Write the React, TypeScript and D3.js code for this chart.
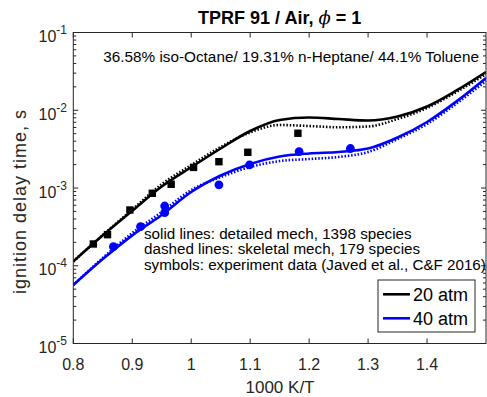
import React from "react";
import * as d3 from "d3";

const W = 487;
const H = 397;

// 1000 K/T grid for model curves
const xGrid = [0.8, 0.85, 0.9, 0.95, 1.0, 1.05, 1.1, 1.15, 1.2, 1.25, 1.3, 1.35, 1.4, 1.45, 1.5];
// 20 atm detailed mech (solid black)
const det20 = [1.135e-4, 2.46e-4, 5.1e-4, 1.045e-3, 1.85e-3, 3.22e-3, 5.41e-3, 7.5e-3, 8.07e-3, 7.71e-3, 7.38e-3, 8.31e-3, 1.117e-2, 1.795e-2, 3.1e-2];
// 20 atm skeletal mech (dotted black)
const skl20 = [1.135e-4, 2.48e-4, 5.28e-4, 1.12e-3, 1.97e-3, 3.37e-3, 5.19e-3, 6.46e-3, 6.27e-3, 6.04e-3, 6.18e-3, 7.71e-3, 1.07e-2, 1.72e-2, 2.92e-2];
// 40 atm detailed mech (solid blue)
const det40 = [5.65e-5, 1.217e-4, 2.46e-4, 4.5e-4, 8.89e-4, 1.45e-3, 2.04e-3, 2.54e-3, 2.78e-3, 2.91e-3, 3.22e-3, 4.46e-3, 7.06e-3, 1.3e-2, 2.6e-2];
// 40 atm skeletal mech (dotted blue)
const skl40 = [5.65e-5, 1.26e-4, 2.64e-4, 4.91e-4, 9.42e-4, 1.38e-3, 1.86e-3, 2.22e-3, 2.36e-3, 2.51e-3, 2.9e-3, 4.27e-3, 6.65e-3, 1.22e-2, 2.38e-2];

// experiment, 20 atm (squares)
const exp20X = [0.834, 0.858, 0.896, 0.934, 0.966, 1.004, 1.047, 1.096, 1.181];
const exp20Y = [1.905e-4, 2.51e-4, 5.21e-4, 8.55e-4, 1.117e-3, 1.84e-3, 2.18e-3, 2.88e-3, 5.06e-3];
// experiment, 40 atm (circles)
const exp40X = [0.868, 0.914, 0.955, 0.955, 1.047, 1.099, 1.183, 1.27];
const exp40Y = [1.76e-4, 3.18e-4, 5.87e-4, 4.81e-4, 1.1e-3, 1.98e-3, 2.94e-3, 3.22e-3];

const xTicks = [0.8, 0.9, 1.0, 1.1, 1.2, 1.3, 1.4];
const xTickLabels = ["0.8", "0.9", "1", "1.1", "1.2", "1.3", "1.4"];
const yExps = [-1, -2, -3, -4, -5];

const legendLabels = ["20 atm", "40 atm"];
const notes = [
  "solid lines: detailed mech, 1398 species",
  "dashed lines: skeletal mech, 179 species",
  "symbols: experiment data (Javed et al., C&F 2016)",
];

const BLUE = "#0000ff";
const AX = "#262626";
const FONT = "'Liberation Sans', Arial, Helvetica, sans-serif";

export default function App() {
  const L = 73.3, R = 486, T = 32.5, B = 343.5;
  const x = d3.scaleLinear().domain([0.8, 1.5]).range([L, R]);
  const y = d3.scaleLog().domain([1e-5, 1e-1]).range([B, T]);

  const line = d3
    .line<[number, number]>()
    .x((d) => x(d[0]))
    .y((d) => y(d[1]))
    .curve(d3.curveMonotoneX);
  const pts = (ys: number[]) => xGrid.map((v, i) => [v, ys[i]] as [number, number]);

  const minor: number[] = [];
  for (let e = -5; e < -1; e++) {
    for (let m = 2; m <= 9; m++) minor.push(m * Math.pow(10, e));
  }

  return (
    <svg width={W} height={H} style={{ position: "absolute", left: 0, top: 0 }} fontFamily={FONT}>
      <rect width={W} height={H} fill="#fff" />
      <defs>
        <clipPath id="plotclip">
          <rect x={L} y={T} width={R - L} height={B - T} />
        </clipPath>
      </defs>

      {/* title */}
      <text x={(L + R) / 2} y={23.5} textAnchor="middle" fontSize={18} fontWeight="bold" fill="#000">
        TPRF 91 / Air, <tspan fontStyle="italic" fontWeight="normal" fontFamily="'DejaVu Serif', serif">ϕ</tspan> = 1
      </text>

      {/* curves */}
      <g clipPath="url(#plotclip)" fill="none" strokeWidth={2.6}>
        <path d={line(pts(skl20)) || ""} stroke="#000" strokeDasharray="1.5,1.8" />
        <path d={line(pts(det20)) || ""} stroke="#000" />
        <path d={line(pts(skl40)) || ""} stroke={BLUE} strokeDasharray="1.5,1.8" />
        <path d={line(pts(det40)) || ""} stroke={BLUE} />
      </g>

      {/* symbols */}
      {exp20X.map((v, i) => (
        <rect key={"s" + i} x={x(v) - 3.7} y={y(exp20Y[i]) - 3.7} width={7.4} height={7.4} fill="#000" />
      ))}
      {exp40X.map((v, i) => (
        <circle key={"c" + i} cx={x(v)} cy={y(exp40Y[i])} r={4.4} fill={BLUE} />
      ))}

      {/* axes box */}
      <rect x={L} y={T} width={R - L} height={B - T} fill="none" stroke={AX} strokeWidth={1} />

      {/* x ticks */}
      {xTicks.map((v, i) => (
        <g key={"xt" + i}>
          <line x1={x(v)} x2={x(v)} y1={B} y2={B - 5} stroke={AX} />
          <line x1={x(v)} x2={x(v)} y1={T} y2={T + 5} stroke={AX} />
          <text x={x(v)} y={369.5} textAnchor="middle" fontSize={16} fill={AX}>
            {xTickLabels[i]}
          </text>
        </g>
      ))}

      {/* y ticks */}
      {yExps.map((e) => {
        const yy = y(Math.pow(10, e));
        return (
          <g key={"yt" + e}>
            <line x1={L} x2={L + 5} y1={yy} y2={yy} stroke={AX} />
            <line x1={R} x2={R - 5} y1={yy} y2={yy} stroke={AX} />
            <text x={67} y={yy + 9.5} textAnchor="end" fontSize={16} fill={AX}>
              10
              <tspan dy={-8} fontSize={12}>
                {String(e)}
              </tspan>
            </text>
          </g>
        );
      })}
      {minor.map((v, i) => (
        <g key={"mt" + i}>
          <line x1={L} x2={L + 3} y1={y(v)} y2={y(v)} stroke={AX} />
          <line x1={R} x2={R - 3} y1={y(v)} y2={y(v)} stroke={AX} />
        </g>
      ))}

      {/* axis labels */}
      <text x={280} y={393} textAnchor="middle" fontSize={17} fill={AX}>
        1000 K/T
      </text>
      <text
        transform={`translate(26,202) rotate(-90)`}
        textAnchor="middle"
        fontSize={18}
        fill={AX}
        textLength={184}
        lengthAdjust="spacing"
      >
        ignition delay time, s
      </text>

      {/* annotations */}
      <text x={103.3} y={62} fontSize={15.3} fill="#000">
        36.58% iso-Octane/ 19.31% n-Heptane/ 44.1% Toluene
      </text>
      {notes.map((t, i) => (
        <text key={"n" + i} x={144} y={238.5 + i * 15.8} fontSize={15.2} fill="#000">
          {t}
        </text>
      ))}

      {/* legend */}
      <rect x={378} y={280} width={97} height={52} fill="#fff" stroke={AX} strokeWidth={1} />
      {legendLabels.map((t, i) => (
        <g key={"lg" + i}>
          <line x1={383} x2={410} y1={294.3 + i * 24} y2={294.3 + i * 24} stroke={i === 0 ? "#000" : BLUE} strokeWidth={2.6} />
          <text x={413} y={300.5 + i * 24} fontSize={18} fill="#000">
            {t}
          </text>
        </g>
      ))}
    </svg>
  );
}
